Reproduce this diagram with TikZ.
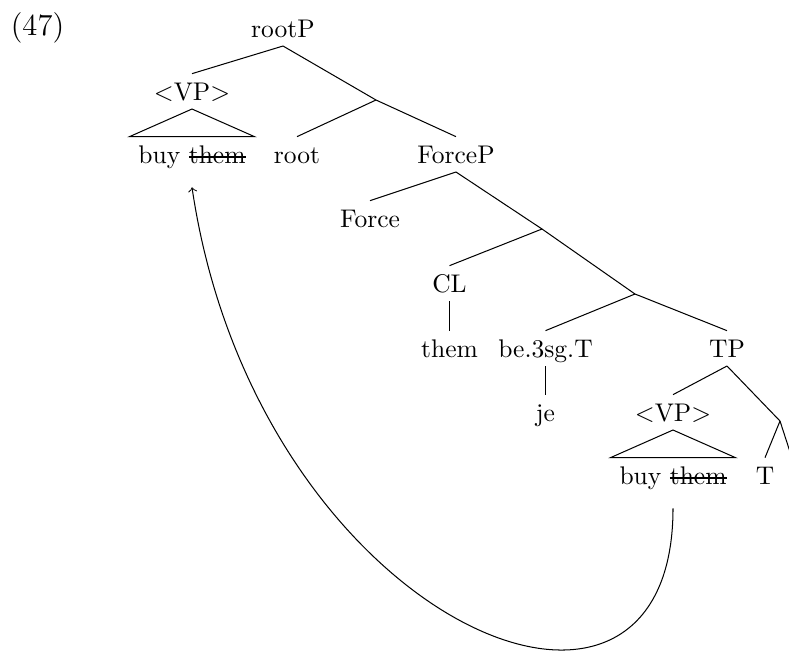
\documentclass[tikz,border=0pt]{standalone}
\usepackage{amsmath}
\usepackage{tikz}

\newcommand{\strk}[1]{\setbox0\hbox{#1}\rlap{\rule[0.5ex]{\wd0}{0.4pt}}\box0}
\tikzset{lbl/.style={anchor=base, text height=6.8pt, text depth=0pt, inner sep=3.33pt}}

\begin{document}
\begin{tikzpicture}[x=0.392pt, y=-0.392pt]
\useasboundingbox (0,0) rectangle (789,652) ;
\clip (0,0) rectangle (789,652) ;
\node (ex) at (37.5,35.5) [anchor=base] {\large (47)} ;
% labelled nodes
\node[lbl] (rootP) at (283,37) {rootP} ;
\node[lbl] (vp1) at (192,100) {$<$VP$>$} ;
\node[lbl] (buy1) at (192,163) {buy \strk{them}} ;
\node[lbl] (root) at (297,163) {root} ;
\node[lbl] (forceP) at (456,163) {ForceP} ;
\node[lbl] (force) at (370,227) {Force} ;
\node[lbl] (cl) at (449.5,292) {CL} ;
\node[lbl] (them) at (449.5,357) {them} ;
\node[lbl] (be) at (545.5,357) {be.3sg.T} ;
\node[lbl] (je) at (545.5,421) {je} ;
\node[lbl] (tp) at (727,357) {TP} ;
\node[lbl] (vp2) at (673,421) {$<$VP$>$} ;
\node[lbl] (buy2) at (673,484) {buy \strk{them}} ;
\node[lbl] (t) at (765,484) {T} ;
% bar levels
\coordinate (b1) at (376,100) ;
\coordinate (b2) at (542,229) ;
\coordinate (b3) at (635,294) ;
\coordinate (b4) at (780,421) ;
\coordinate (b5) at (792,458) ;
\draw (rootP.south) to (vp1.north) ;
\draw (rootP.south) to (b1) ;
\draw (b1) to (root.north) ;
\draw (b1) to (forceP.north) ;
\draw (vp1.south) -- (buy1.north west) -- (buy1.north east) -- cycle ;
\draw (forceP.south) to (force.north) ;
\draw (forceP.south) to (b2) ;
\draw (b2) to (cl.north) ;
\draw (b2) to (b3) ;
\draw (cl.south) to (them.north) ;
\draw (b3) to (be.north) ;
\draw (b3) to (tp.north) ;
\draw (be.south) to (je.north) ;
\draw (tp.south) to (vp2.north) ;
\draw (tp.south) to (b4) ;
\draw (vp2.south) -- (buy2.north west) -- (buy2.north east) -- cycle ;
\draw (b4) to (t.north) ;
\draw (b4) to (b5) ;
% movement
\draw[->] ([yshift=-6pt]buy2.south) .. controls +(0,290) and +(64,432) .. ([yshift=-6pt]buy1.south) ;
\end{tikzpicture}
\end{document}
